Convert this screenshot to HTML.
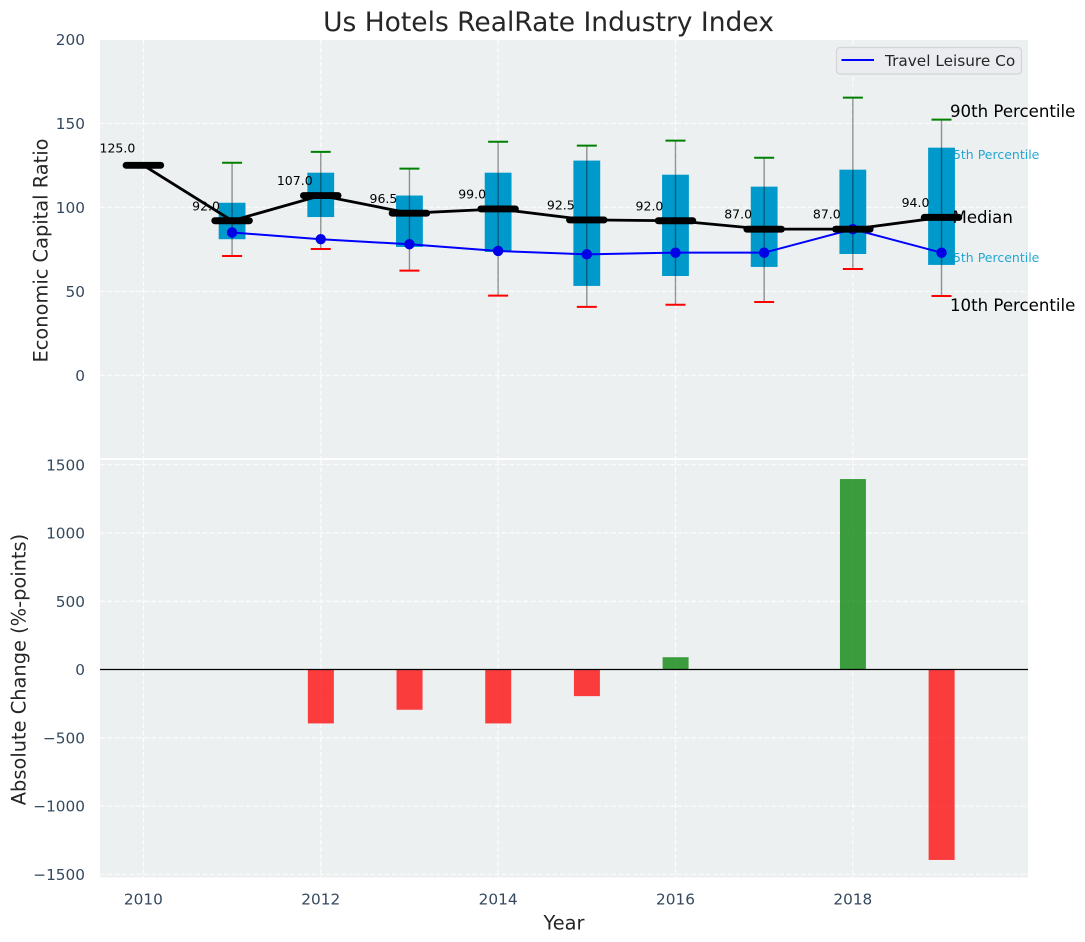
<!DOCTYPE html>
<html lang="en">
<head>
<meta charset="utf-8">
<title>Us Hotels RealRate Industry Index</title>
<style>
html,body{margin:0;padding:0;background:#fff;}
svg{display:block;font-family:"DejaVu Sans","Liberation Sans",sans-serif;}
</style>
</head>
<body>
<svg id="chart" xmlns="http://www.w3.org/2000/svg" width="1085" height="942" viewBox="0 0 1085 942"></svg>
<script>
const years = [2010, 2011, 2012, 2013, 2014, 2015, 2016, 2017, 2018, 2019];
const medians = [125, 92, 107, 96.5, 99, 92.5, 92, 87, 87, 94];
const boxYears = [2011, 2012, 2013, 2014, 2015, 2016, 2017, 2018, 2019];
const p90 = [126.5, 133, 123, 139, 136.7, 139.7, 129.5, 165.3, 152.2];
const p75 = [102.7, 120.6, 107, 120.6, 127.8, 119.4, 112.3, 122.4, 135.5];
const p25 = [81, 94.2, 76.4, 73.4, 53.2, 59.1, 64.5, 72.2, 65.7];
const p10 = [71, 75.2, 62.3, 47.4, 40.7, 42, 43.6, 63.3, 47.2];
const companyValues = [85, 81, 78, 74, 72, 73, 73, 87, 73];
const changeYears = [2011, 2012, 2013, 2014, 2015, 2016, 2017, 2018, 2019];
const changeValues = [0, -395, -295, -395, -195, 90, 0, 1395, -1395];
const topTicks = [0, 50, 100, 150, 200];
const bottomTicks = [-1500, -1000, -500, 0, 500, 1000, 1500];
const xTicks = [2010, 2012, 2014, 2016, 2018];

const svg = document.getElementById('chart');
const NS = 'http://www.w3.org/2000/svg';
const LEFT = 100, RIGHT = 1028;
const TOP1 = 40, BOT1 = 458;
const TOP2 = 460, BOT2 = 877.5;

function x(year) { return 143.4 + (year - 2010) * 88.68; }
function y1(v) { return 375.3 - v * 1.68; }
function y2(v) { return 669.5 - v * 0.13653; }

function make(tag, attrs, text) {
  const el = document.createElementNS(NS, tag);
  for (const k in attrs) el.setAttribute(k, attrs[k]);
  if (text !== undefined) el.textContent = text;
  svg.appendChild(el);
  return el;
}
function fmtTick(v) { return v < 0 ? '\u2212' + Math.abs(v) : String(v); }

/* panels */
let el = make('rect', {x: LEFT, y: TOP1, width: RIGHT - LEFT, height: BOT1 - TOP1, fill: '#ecf0f1'});


el = make('rect', {x: LEFT, y: TOP2, width: RIGHT - LEFT, height: BOT2 - TOP2, fill: '#ecf0f1'});



const gridStyle = {stroke: '#ffffff', 'stroke-width': 1.2, 'stroke-dasharray': '5.1 2.2', 'stroke-opacity': 0.85};

/* grids */
topTicks.forEach(function (t) {
  if (t === 200) return;
  const g = make('line', Object.assign({x1: LEFT, x2: RIGHT, y1: y1(t), y2: y1(t)}, gridStyle));
  
  
});
bottomTicks.forEach(function (t) {
  const g = make('line', Object.assign({x1: LEFT, x2: RIGHT, y1: y2(t), y2: y2(t)}, gridStyle));
  
  
});
xTicks.forEach(function (t) {
  let g = make('line', Object.assign({x1: x(t), x2: x(t), y1: TOP1, y2: BOT1}, gridStyle));
  
  
  g = make('line', Object.assign({x1: x(t), x2: x(t), y1: TOP2, y2: BOT2}, gridStyle));
  
  
});

/* tick labels */
const tickColor = '#34495e';
topTicks.forEach(function (t) {
  const l = make('text', {x: 85, y: y1(t) + 5.6, 'text-anchor': 'end', 'font-size': 15.3, fill: tickColor}, fmtTick(t));
  
  
});
bottomTicks.forEach(function (t) {
  const l = make('text', {x: 85, y: y2(t) + 5.6, 'text-anchor': 'end', 'font-size': 15.3, fill: tickColor}, fmtTick(t));
  
  
});
xTicks.forEach(function (t) {
  const l = make('text', {x: x(t), y: 904.6, 'text-anchor': 'middle', 'font-size': 15.3, fill: tickColor}, String(t));
  
  
});

/* titles */
el = make('text', {x: 548.5, y: 31, 'text-anchor': 'middle', 'font-size': 26.5, fill: '#262626'}, 'Us Hotels RealRate Industry Index');


el = make('text', {x: 564, y: 929.5, 'text-anchor': 'middle', 'font-size': 19.4, fill: '#262626'}, 'Year');


el = make('text', {x: 0, y: 0, 'text-anchor': 'middle', 'font-size': 19.4, fill: '#262626', transform: 'translate(47.5,250.5) rotate(-90)'}, 'Economic Capital Ratio');


el = make('text', {x: 0, y: 0, 'text-anchor': 'middle', 'font-size': 19.4, fill: '#262626', transform: 'translate(25.5,669.5) rotate(-90)'}, 'Absolute Change (%-points)');



/* percentile labels below the boxes */
el = make('text', {x: 945, y: 159, 'font-size': 12.5, fill: '#0099cc', 'fill-opacity': 0.85}, '75th Percentile');


el = make('text', {x: 945, y: 262, 'font-size': 12.5, fill: '#0099cc', 'fill-opacity': 0.85}, '25th Percentile');



/* boxes and whiskers */
boxYears.forEach(function (yr, i) {
  const cx = x(yr);
  const b = make('rect', {x: cx - 13.4, y: y1(p75[i]), width: 26.8, height: y1(p25[i]) - y1(p75[i]), fill: '#0099cc'});
  
  
  const w = make('line', {x1: cx, x2: cx, y1: y1(p90[i]), y2: y1(p10[i]), stroke: '#000000', 'stroke-opacity': 0.4, 'stroke-width': 1.4});
  
  
  const hi = make('line', {x1: cx - 10, x2: cx + 10, y1: y1(p90[i]), y2: y1(p90[i]), stroke: '#008000', 'stroke-width': 2});
  
  
  const lo = make('line', {x1: cx - 10, x2: cx + 10, y1: y1(p10[i]), y2: y1(p10[i]), stroke: '#ff0000', 'stroke-width': 2});
  
  
});

/* company series */
el = make('polyline', {points: boxYears.map(function (yr, i) { return x(yr) + ',' + y1(companyValues[i]); }).join(' '), fill: 'none', stroke: '#0000ff', 'stroke-width': 2});


boxYears.forEach(function (yr, i) {
  const d = make('circle', {cx: x(yr), cy: y1(companyValues[i]), r: 5.2, fill: '#0000e6'});
  
  
});

/* median series */
el = make('polyline', {points: years.map(function (yr, i) { return x(yr) + ',' + y1(medians[i]); }).join(' '), fill: 'none', stroke: '#000000', 'stroke-width': 2.8});


years.forEach(function (yr, i) {
  const m = make('line', {x1: x(yr) - 17.3, x2: x(yr) + 17.3, y1: y1(medians[i]), y2: y1(medians[i]), stroke: '#000000', 'stroke-width': 6.9, 'stroke-linecap': 'round'});
  
  
  const lift = i === 0 ? 13 : 10.4;
  const t = make('text', {x: x(yr) - 26, y: y1(medians[i]) - lift, 'text-anchor': 'middle', 'font-size': 12.5, fill: '#000000'}, medians[i].toFixed(1));
  
  
});

/* other percentile labels */
el = make('text', {x: 950, y: 116.8, 'font-size': 16.6, fill: '#000000'}, '90th Percentile');


el = make('text', {x: 952.5, y: 223, 'font-size': 16.6, fill: '#000000'}, 'Median');


el = make('text', {x: 950, y: 311, 'font-size': 16.6, fill: '#000000'}, '10th Percentile');



/* change bars */
changeYears.forEach(function (yr, i) {
  const v = changeValues[i];
  if (v === 0) return;
  const top = Math.min(y2(v), y2(0));
  const h = Math.abs(y2(v) - y2(0));
  const r = make('rect', {x: x(yr) - 12.9, y: top, width: 26, height: h, fill: v > 0 ? '#008000' : '#ff0000', 'fill-opacity': 0.75});
  
  
});
el = make('line', {x1: LEFT, x2: RIGHT, y1: y2(0), y2: y2(0), stroke: '#000000', 'stroke-width': 1.3});



/* legend */
el = make('rect', {x: 836.5, y: 47.5, width: 185, height: 26.5, rx: 3.5, fill: '#eaecf0', stroke: '#d2d4d6', 'stroke-width': 1.2});


el = make('line', {x1: 841.5, x2: 874, y1: 60, y2: 60, stroke: '#0000ff', 'stroke-width': 2});


el = make('text', {x: 885, y: 66, 'font-size': 15.3, fill: '#262626'}, 'Travel Leisure Co');


</script>
</body>
</html>
